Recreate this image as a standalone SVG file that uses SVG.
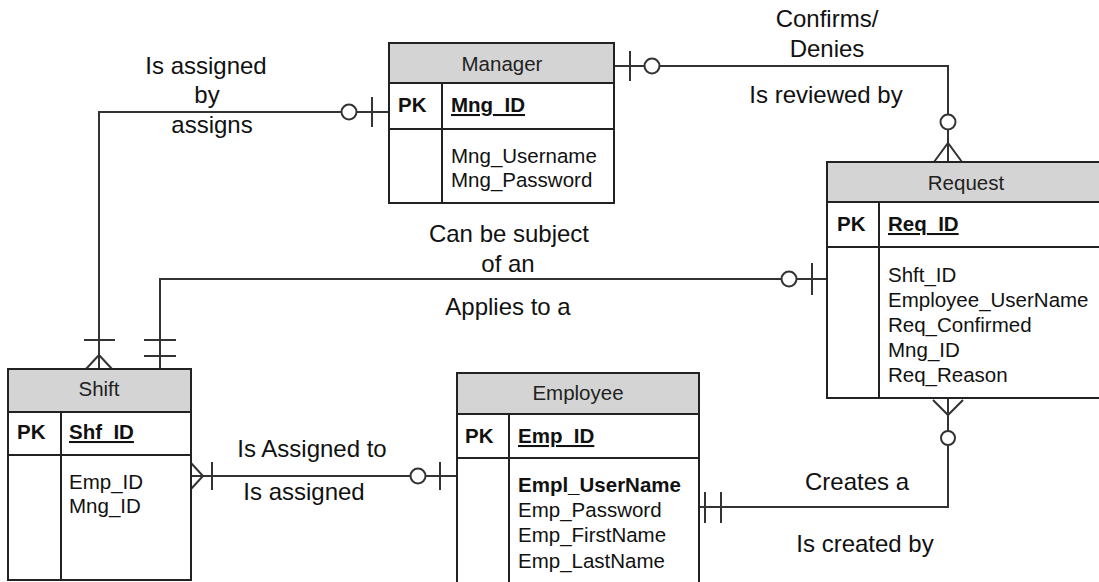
<svg xmlns="http://www.w3.org/2000/svg" width="1099" height="582" viewBox="0 0 1099 582">
<style>
.box{fill:#fff;stroke:#222;stroke-width:2}
.hdr{fill:#d4d4d4;stroke:#222;stroke-width:2}
.sep{stroke:#222;stroke-width:2;fill:none}
.t{font-family:"Liberation Sans",Arial,sans-serif;font-size:20.5px;fill:#111}
.h{font-family:"Liberation Sans",Arial,sans-serif;font-size:20.5px;fill:#222;text-anchor:middle}
.b{font-weight:bold}
.u{text-decoration:underline}
.lbl{font-family:"Liberation Sans",Arial,sans-serif;font-size:24px;fill:#111;text-anchor:middle}
.ln{stroke:#333;stroke-width:2;fill:none}
.c{stroke:#333;stroke-width:2;fill:#fff}
</style>
<rect width="1099" height="582" fill="#fff"/>

<g id="connectors">
  <!-- Manager - Shift -->
  <polyline class="ln" points="389,112 99,112 99,369"/>
  <line class="ln" x1="372" y1="97" x2="372" y2="127"/>
  <circle class="c" cx="349" cy="112" r="7.5"/>
  <line class="ln" x1="84" y1="340" x2="115" y2="340"/>
  <polyline class="ln" points="86,369 99,355 112,369"/>

  <!-- Manager - Request -->
  <polyline class="ln" points="614,66 948,66 948,162"/>
  <line class="ln" x1="630" y1="51" x2="630" y2="81"/>
  <circle class="c" cx="652" cy="66" r="7.5"/>
  <circle class="c" cx="948" cy="122" r="7.5"/>
  <polyline class="ln" points="934,162 948,143 962,162"/>

  <!-- Request - Shift -->
  <polyline class="ln" points="827,279 160,279 160,369"/>
  <line class="ln" x1="812" y1="263" x2="812" y2="295"/>
  <circle class="c" cx="789" cy="279" r="7.5"/>
  <line class="ln" x1="144" y1="340" x2="176" y2="340"/>
  <line class="ln" x1="144" y1="356" x2="176" y2="356"/>

  <!-- Request - Employee -->
  <polyline class="ln" points="948,398 948,507 699,507"/>
  <polyline class="ln" points="933,400 948,415 963,400"/>
  <circle class="c" cx="948" cy="438" r="7"/>
  <line class="ln" x1="705" y1="492" x2="705" y2="523"/>
  <line class="ln" x1="721" y1="492" x2="721" y2="523"/>

  <!-- Shift - Employee -->
  <line class="ln" x1="191" y1="476" x2="457" y2="476"/>
  <polyline class="ln" points="191,463 203,476 191,489"/>
  <line class="ln" x1="212" y1="462" x2="212" y2="490"/>
  <circle class="c" cx="418" cy="476" r="7.5"/>
  <line class="ln" x1="440" y1="462" x2="440" y2="490"/>

  <!-- labels -->
  <text class="lbl" x="206" y="74">Is assigned</text>
  <text class="lbl" x="207" y="103">by</text>
  <text class="lbl" x="212" y="133">assigns</text>
  <text class="lbl" x="827" y="27">Confirms/</text>
  <text class="lbl" x="827" y="57">Denies</text>
  <text class="lbl" x="826" y="103">Is reviewed by</text>
  <text class="lbl" x="509" y="242">Can be subject</text>
  <text class="lbl" x="508" y="272">of an</text>
  <text class="lbl" x="508" y="315">Applies to a</text>
  <text class="lbl" x="312" y="457">Is Assigned to</text>
  <text class="lbl" x="304" y="500">Is assigned</text>
  <text class="lbl" x="857" y="490">Creates a</text>
  <text class="lbl" x="865" y="552">Is created by</text>
</g>

<g id="manager">
  <rect class="box" x="389" y="43" width="225" height="160"/>
  <rect class="hdr" x="389" y="43" width="225" height="40"/>
  <line class="sep" x1="389" y1="129" x2="614" y2="129"/>
  <line class="sep" x1="442" y1="83" x2="442" y2="203"/>
  <text class="h" x="502" y="71">Manager</text>
  <text class="t b" x="398" y="112">PK</text>
  <text class="t b u" x="451" y="112">Mng_ID</text>
  <text class="t" x="451" y="163">Mng_Username</text>
  <text class="t" x="451" y="187">Mng_Password</text>
</g>

<g id="request">
  <rect class="box" x="827" y="162" width="280" height="236"/>
  <rect class="hdr" x="827" y="162" width="280" height="40"/>
  <line class="sep" x1="827" y1="247" x2="1107" y2="247"/>
  <line class="sep" x1="879" y1="202" x2="879" y2="398"/>
  <text class="h" x="966" y="190">Request</text>
  <text class="t b" x="837" y="231">PK</text>
  <text class="t b u" x="888" y="231">Req_ID</text>
  <text class="t" x="888" y="282">Shft_ID</text>
  <text class="t" x="888" y="307">Employee_UserName</text>
  <text class="t" x="888" y="332">Req_Confirmed</text>
  <text class="t" x="888" y="357">Mng_ID</text>
  <text class="t" x="888" y="382">Req_Reason</text>
</g>

<g id="shift">
  <rect class="box" x="8" y="369" width="183" height="211"/>
  <rect class="hdr" x="8" y="369" width="183" height="43"/>
  <line class="sep" x1="8" y1="455" x2="191" y2="455"/>
  <line class="sep" x1="61" y1="412" x2="61" y2="580"/>
  <text class="h" x="99" y="396">Shift</text>
  <text class="t b" x="17" y="439">PK</text>
  <text class="t b u" x="69" y="439">Shf_ID</text>
  <text class="t" x="69" y="489">Emp_ID</text>
  <text class="t" x="69" y="513">Mng_ID</text>
</g>

<g id="employee">
  <rect class="box" x="457" y="373" width="242" height="220"/>
  <rect class="hdr" x="457" y="373" width="242" height="41"/>
  <line class="sep" x1="457" y1="458" x2="699" y2="458"/>
  <line class="sep" x1="509" y1="414" x2="509" y2="593"/>
  <text class="h" x="578" y="400">Employee</text>
  <text class="t b" x="465" y="443">PK</text>
  <text class="t b u" x="518" y="443">Emp_ID</text>
  <text class="t b" x="518" y="492">Empl_UserName</text>
  <text class="t" x="518" y="517">Emp_Password</text>
  <text class="t" x="518" y="542">Emp_FirstName</text>
  <text class="t" x="518" y="568">Emp_LastName</text>
</g>
</svg>
